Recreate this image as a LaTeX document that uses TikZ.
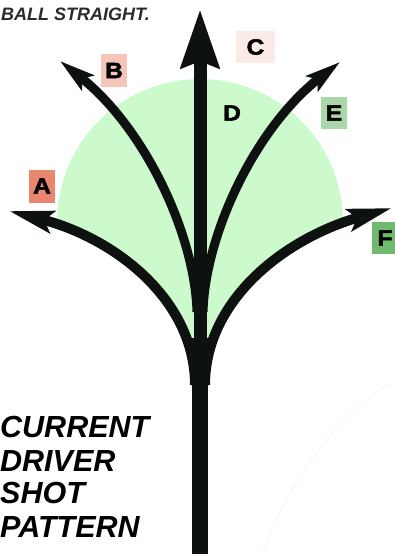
\documentclass[tikz,border=0pt]{standalone}
\usepackage{fontspec}
\setmainfont{Liberation Sans}
\newfontfamily\tagfont[FakeBold=2.2,FakeStretch=1.12]{Liberation Sans}
\usetikzlibrary{arrows.meta}

\definecolor{ink}{HTML}{0D110F}
\definecolor{dome}{HTML}{CCFACC}
\definecolor{notegray}{HTML}{2B2B2B}
\definecolor{tagA}{HTML}{E8866F}
\definecolor{tagB}{HTML}{F4C5B8}
\definecolor{tagC}{HTML}{FBEBE7}
\definecolor{tagE}{HTML}{A9D7A9}
\definecolor{tagF}{HTML}{70BA70}

\tikzset{
  shot/.style={draw=ink, line width=#1, line cap=butt},
  bighead/.style={-{Stealth[length=58pt,width=37pt,inset=6pt]}},
  widehead/.style={-{Stealth[length=44pt,width=22pt,inset=8pt]}},
  midhead/.style={-{Stealth[length=35pt,width=19pt,inset=7pt]}},
  tag/.style={minimum width=26pt, minimum height=33pt, inner sep=0pt,
    text=black, font=\tagfont\bfseries\fontsize{22}{22}\selectfont},
  titleline/.style={anchor=base west, inner sep=0pt,
    font=\fontsize{30.5}{30.5}\selectfont\bfseries\itshape},
}

\begin{document}
\begin{tikzpicture}[x=1pt,y=-1pt]
\useasboundingbox (0,0) rectangle (394,554);

% start and end points of the shot lines
\coordinate (base) at (200,554);
\coordinate (fork) at (200,338);
\coordinate (aS) at (195,385); \coordinate (aT) at (9,211);
\coordinate (fS) at (205,385); \coordinate (fT) at (392,208);
\coordinate (bS) at (197,312); \coordinate (bT) at (60,61);
\coordinate (eS) at (203,312); \coordinate (eT) at (340,62);
\coordinate (cT) at (200,9);

% green dome, kept above the two flattest shots
\begin{scope}
  \clip (aT) .. controls (115,238) and (195,300) .. (aS) -- (fS)
        .. controls (205,300) and (285,238) .. (fT) -- (394,0) -- (0,0) -- cycle;
  \fill[dome] (200,222) circle[radius=143];
\end{scope}

% faint stray stroke, lower right
\draw[black!5, line width=0.6pt] (262,554) .. controls (290,480) and (330,425) .. (388,384);

% trunk and straight shot
\draw[shot=16] (base) -- (fork);
\draw[shot=13, bighead] (fork) -- (cT);

% curving shots
\draw[shot=10, widehead] (aS) .. controls (195,300) and (115,238) .. (aT);
\draw[shot=10, widehead] (fS) .. controls (205,300) and (285,238) .. (fT);
\draw[shot=9, midhead] (bS) .. controls (195,235) and (145,128) .. (bT);
\draw[shot=9, midhead] (eS) .. controls (205,235) and (255,128) .. (eT);

% labels
\node[tag, fill=tagA] (lA) at (42,186) {A};
\node[tag, fill=tagB] (lB) at (114,70.5) {B};
\node[tag, fill=tagC, minimum width=39pt, minimum height=32pt] (lC) at (255.5,47) {C};
\node[tag] (lD) at (232,113) {D};
\node[tag, fill=tagE, minimum height=32pt] (lE) at (334,113) {E};
\node[tag, fill=tagF, minimum height=32pt] (lF) at (385,238) {F};

% captions
\node[anchor=base west, inner sep=0pt, text=notegray,
      font=\fontsize{18}{18}\selectfont\bfseries\itshape] (note) at (1,20) {BALL STRAIGHT.};
\node[titleline] (t1) at (0,437) {CURRENT};
\node[titleline] (t2) at (0,471) {DRIVER};
\node[titleline] (t3) at (0,503) {SHOT};
\node[titleline] (t4) at (0,537) {PATTERN};
\end{tikzpicture}
\end{document}
